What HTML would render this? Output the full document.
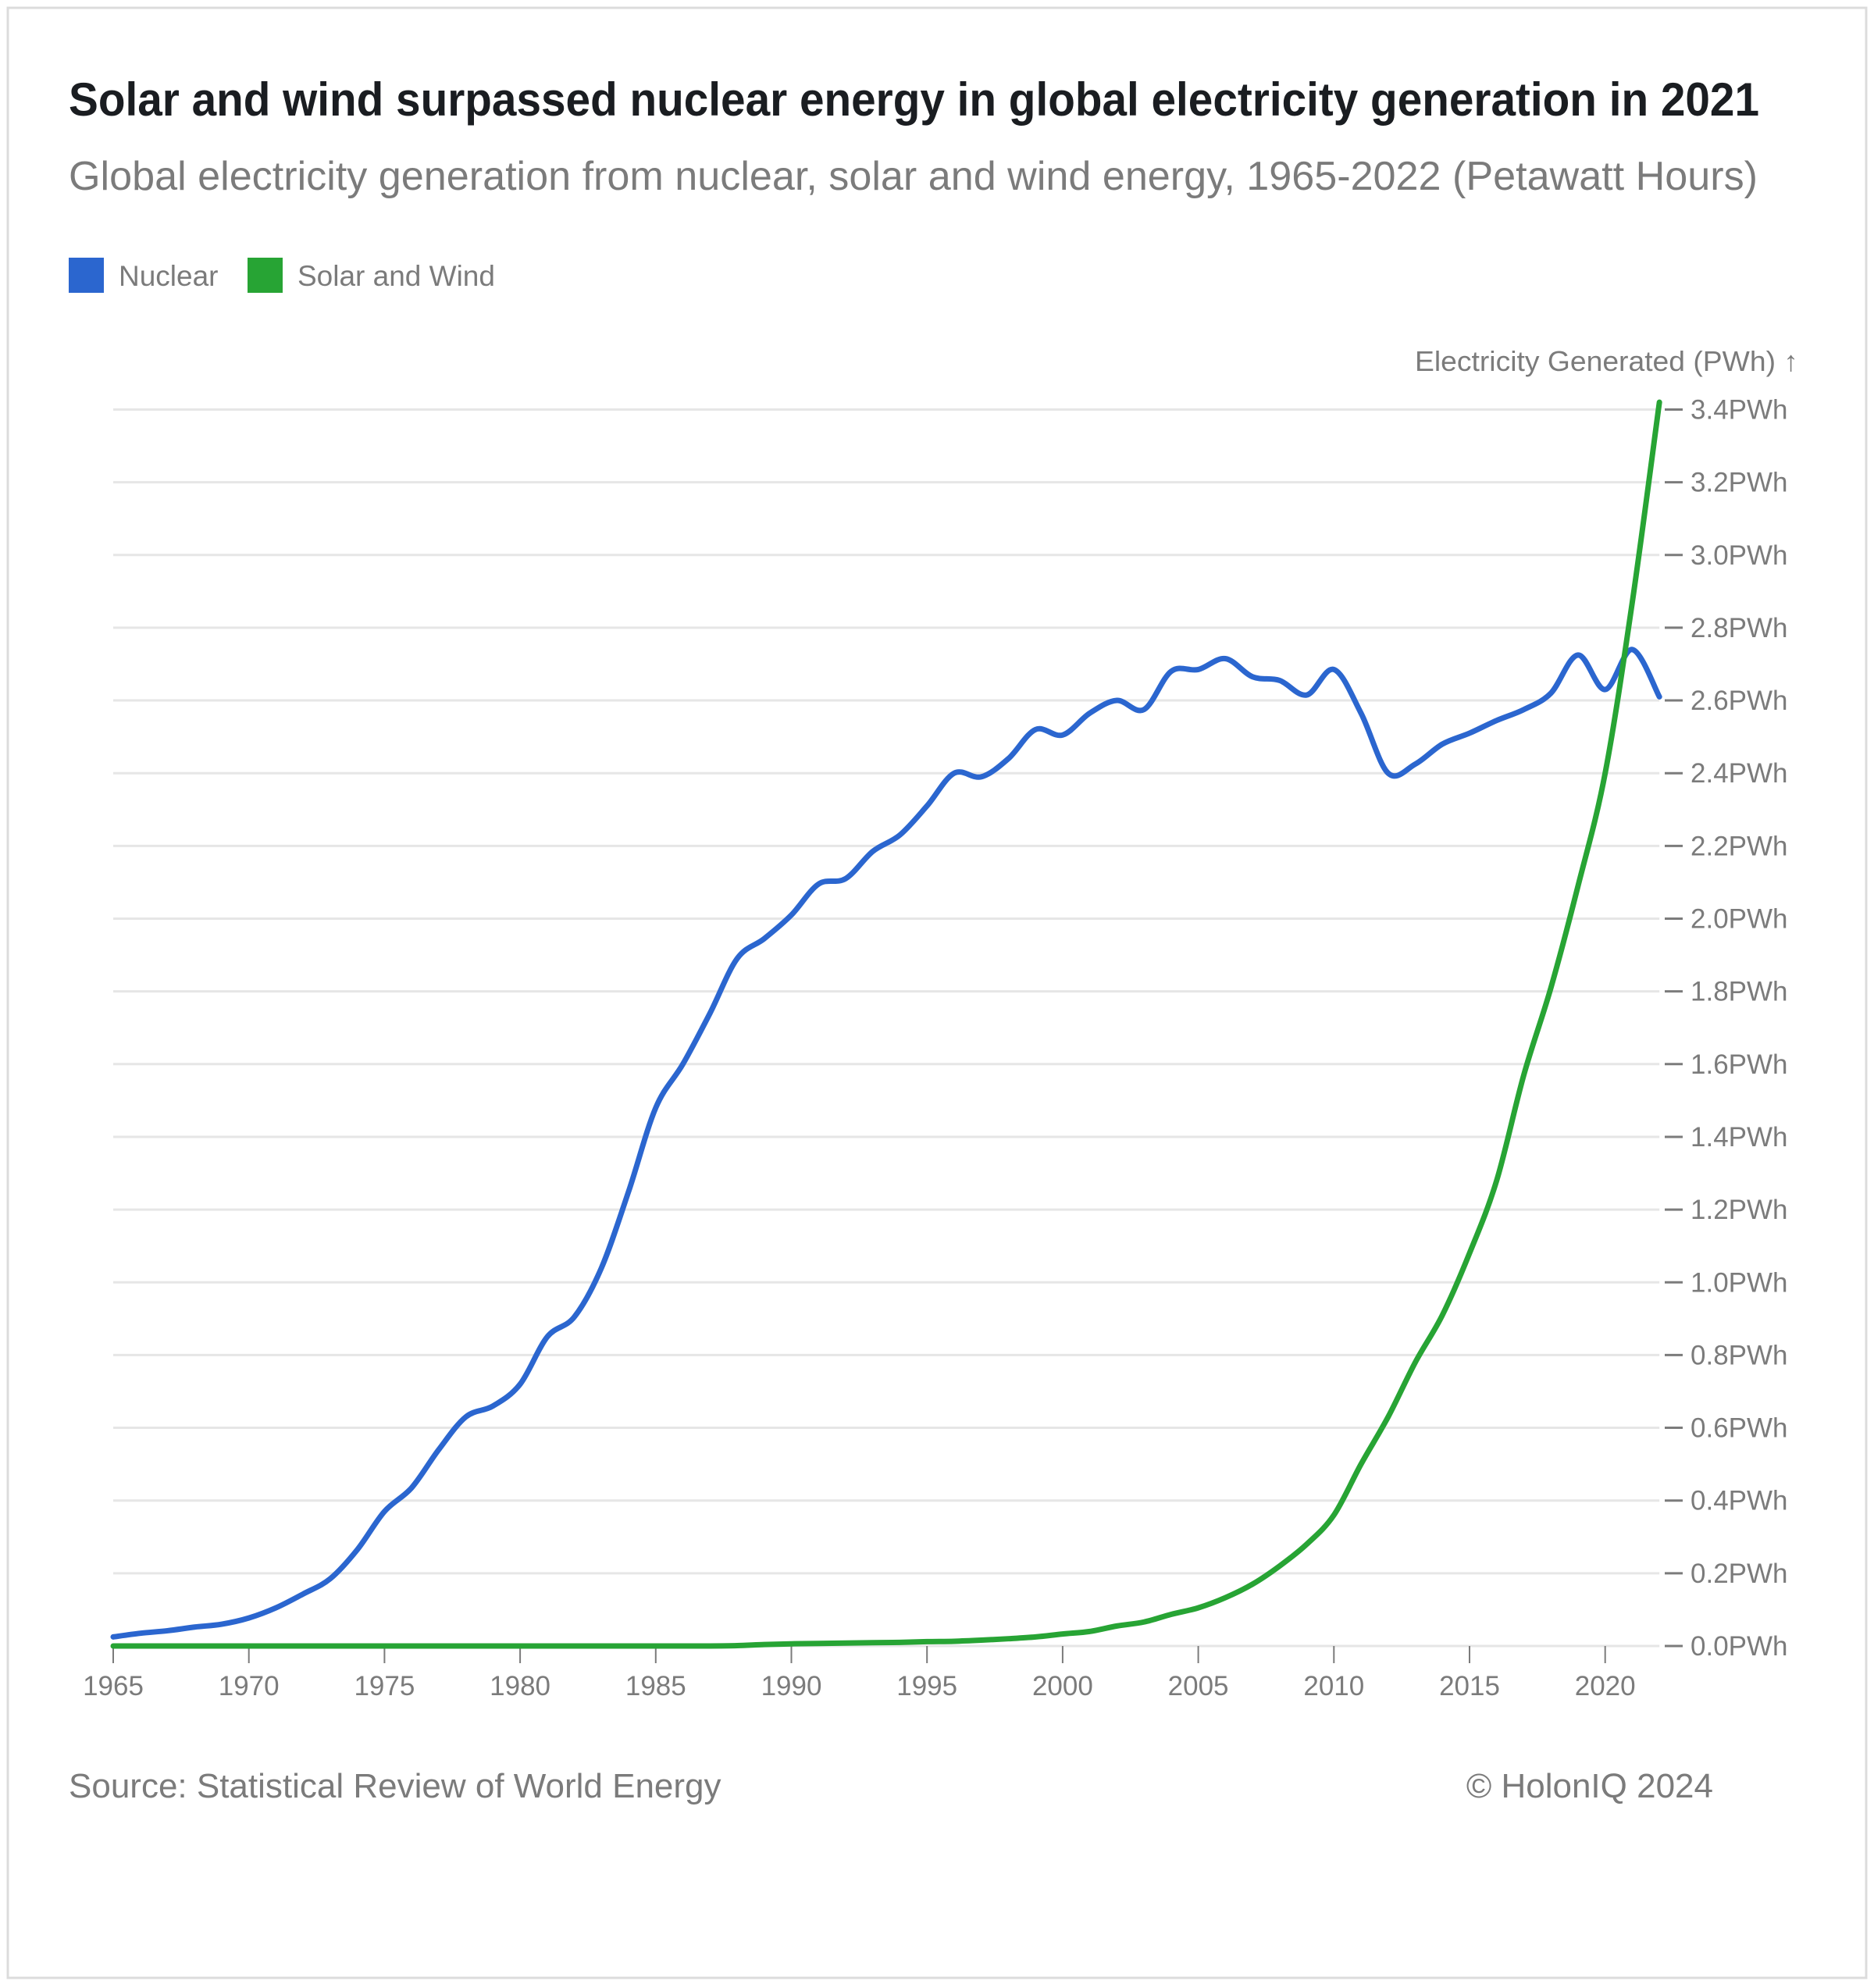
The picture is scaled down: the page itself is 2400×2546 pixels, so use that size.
<!DOCTYPE html>
<html><head><meta charset="utf-8"><style>
html,body{margin:0;padding:0;background:#fff;}
svg{display:block;font-family:"Liberation Sans",sans-serif;}
</style></head><body>
<svg id="chart" width="2400" height="2546" viewBox="0 0 2400 2546">
<rect x="10" y="10" width="2380" height="2523" fill="#fff" stroke="#dcdcdc" stroke-width="3"/>
<text x="88" y="148" font-size="60" font-weight="bold" fill="#1a1d21" textLength="2165" lengthAdjust="spacingAndGlyphs">Solar and wind surpassed nuclear energy in global electricity generation in 2021</text>
<text x="88" y="243" font-size="52" fill="#7b7b7b" textLength="2163" lengthAdjust="spacingAndGlyphs">Global electricity generation from nuclear, solar and wind energy, 1965-2022 (Petawatt Hours)</text>
<g>
<rect x="88" y="330" width="45" height="45" fill="#2b66cf"/>
<text x="152" y="366" font-size="37" fill="#7b7b7b">Nuclear</text>
<rect x="317" y="330" width="45" height="45" fill="#27a434"/>
<text x="381" y="366" font-size="37" fill="#7b7b7b">Solar and Wind</text>
</g>
<text x="1812" y="475" font-size="36" fill="#7b7b7b" textLength="491" lengthAdjust="spacingAndGlyphs">Electricity Generated (PWh) ↑</text>
<g id="grid"></g><g id="yaxis"></g><g id="xaxis"></g><g id="series"></g>
<text x="88" y="2302" font-size="44" fill="#7b7b7b">Source: Statistical Review of World Energy</text>
<text x="2194" y="2302" font-size="44" fill="#7b7b7b" text-anchor="end">© HolonIQ 2024</text>
</svg>
<script>
const years = [];
for (let y = 1965; y <= 2022; y++) years.push(y);
const nuclear = [0.025,0.035,0.042,0.052,0.06,0.077,0.105,0.143,0.185,0.265,0.37,0.435,0.54,0.63,0.66,0.72,0.85,0.905,1.04,1.25,1.48,1.6,1.74,1.89,1.945,2.01,2.095,2.11,2.185,2.23,2.31,2.4,2.39,2.44,2.52,2.505,2.565,2.6,2.575,2.68,2.685,2.715,2.665,2.655,2.615,2.685,2.565,2.4,2.425,2.48,2.51,2.545,2.575,2.62,2.725,2.63,2.74,2.61];
const solarWind = [0,0,0,0,0,0,0,0,0,0,0,0,0,0,0,0,0,0,0,0,0,0,0,0.001,0.004,0.006,0.007,0.008,0.009,0.01,0.012,0.013,0.016,0.02,0.025,0.033,0.04,0.055,0.066,0.087,0.105,0.133,0.17,0.22,0.28,0.36,0.5,0.63,0.78,0.91,1.08,1.28,1.57,1.81,2.09,2.4,2.87,3.42];
const yTicks = [0,0.2,0.4,0.6,0.8,1.0,1.2,1.4,1.6,1.8,2.0,2.2,2.4,2.6,2.8,3.0,3.2,3.4];
const xTicks = [1965,1970,1975,1980,1985,1990,1995,2000,2005,2010,2015,2020];

const NS = "http://www.w3.org/2000/svg";
const X0 = 145, PER_YEAR = 34.74, Y0 = 2108, PER_UNIT = 93.15/0.2;
const xs = yr => X0 + (yr - 1965) * PER_YEAR;
const ys = v => Y0 - v * PER_UNIT;
function mk(tag, attrs, parent) { const e = document.createElementNS(NS, tag); for (const k in attrs) e.setAttribute(k, attrs[k]); parent.appendChild(e); return e; }

const grid = document.getElementById('grid'), yaxis = document.getElementById('yaxis'), xaxis = document.getElementById('xaxis'), series = document.getElementById('series');
yTicks.forEach(t => {
  const y = ys(t);
  const gl = mk('line', {x1: X0, x2: xs(2022), y1: y, y2: y, stroke: '#e6e6e6', 'stroke-width': 3}, grid);
  
  
  const tk = mk('line', {x1: 2132, x2: 2155, y1: y, y2: y, stroke: '#7b7b7b', 'stroke-width': 3}, yaxis);
  
  
  const tx = mk('text', {x: 2165, y: y + 12, 'font-size': 35, fill: '#7b7b7b'}, yaxis);
  tx.textContent = t.toFixed(1) + 'PWh';
  
  
});
xTicks.forEach(t => {
  const x = xs(t);
  const tk = mk('line', {x1: x, x2: x, y1: Y0, y2: Y0 + 22, stroke: '#7b7b7b', 'stroke-width': 2}, xaxis);
  
  
  const tx = mk('text', {x: x, y: 2171, 'font-size': 35, fill: '#7b7b7b', 'text-anchor': 'middle'}, xaxis);
  tx.textContent = t;
  
  
});
function smoothPath(vals) {
  const p = vals.map((v, i) => [xs(years[i]), ys(v)]);
  let d = 'M' + p[0][0] + ',' + p[0][1];
  for (let i = 0; i < p.length - 1; i++) {
    const p0 = p[i - 1] || p[i], p1 = p[i], p2 = p[i + 1], p3 = p[i + 2] || p2;
    const c1 = [p1[0] + (p2[0] - p0[0]) / 6, p1[1] + (p2[1] - p0[1]) / 6];
    const c2 = [p2[0] - (p3[0] - p1[0]) / 6, p2[1] - (p3[1] - p1[1]) / 6];
    d += ' C' + c1[0] + ',' + c1[1] + ' ' + c2[0] + ',' + c2[1] + ' ' + p2[0] + ',' + p2[1];
  }
  return d;
}
const lineN = mk('path', {d: smoothPath(nuclear), fill: 'none', stroke: '#2b66cf', 'stroke-width': 7, 'stroke-linecap': 'round', 'stroke-linejoin': 'round'}, series);


const lineS = mk('path', {d: smoothPath(solarWind), fill: 'none', stroke: '#27a434', 'stroke-width': 7, 'stroke-linecap': 'round', 'stroke-linejoin': 'round'}, series);


</script>
</body></html>
